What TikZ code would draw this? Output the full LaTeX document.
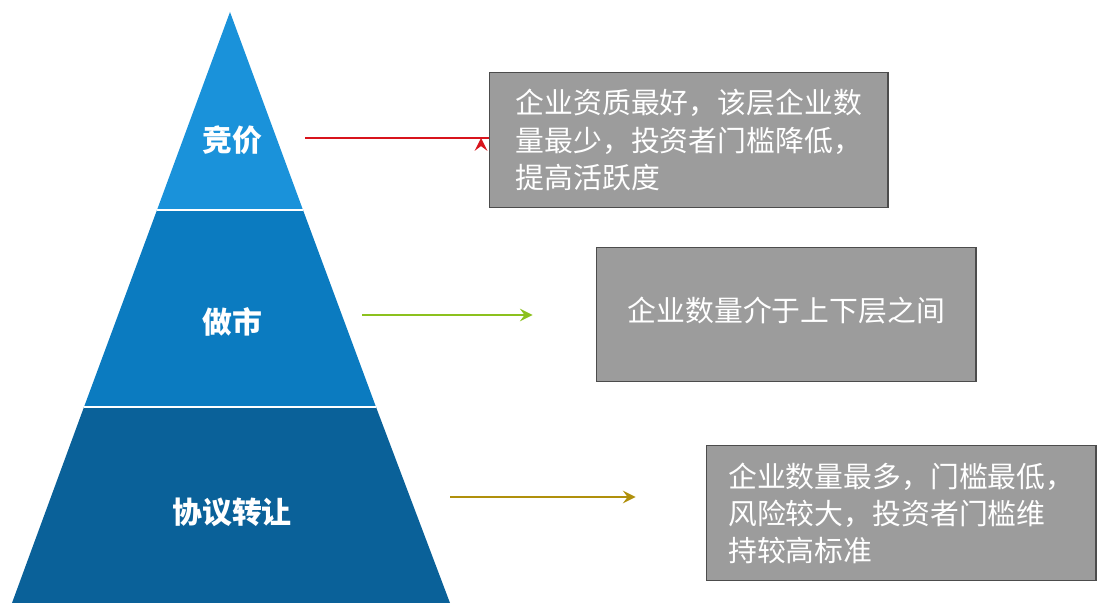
\documentclass[tikz,border=0pt]{standalone}
\usepackage{fontspec}
\newfontfamily\cjk{Noto Sans CJK SC}
\usetikzlibrary{positioning}
\definecolor{topblue}{HTML}{1A92DA}
\definecolor{midblue}{HTML}{0B7BC0}
\definecolor{lowblue}{HTML}{0A6199}
\definecolor{boxgray}{HTML}{9C9C9C}
\definecolor{arrred}{HTML}{D8141C}
\definecolor{arrgreen}{HTML}{8CC11E}
\definecolor{arrolive}{HTML}{B0900C}
\tikzset{
  layerlabel/.style={text=white,font=\cjk\bfseries\fontsize{8.5}{10}\selectfont},
  infobox/.style={draw=black!70,fill=boxgray,text=white,align=left,anchor=north west,
    inner sep=3pt,font=\cjk\fontsize{8.2}{10.6}\selectfont},
  pointer/.style={line width=0.6pt,-stealth}
}
\begin{document}
\begin{tikzpicture}[x=0.01cm,y=-0.01cm]
\useasboundingbox (0,0) rectangle (1112,616);
% pyramid layers
\fill[lowblue] (12,603)--(84,407)--(376,407)--(450,603)--cycle;
\fill[midblue] (84,407)--(157,210)--(303,210)--(376,407)--cycle;
\fill[topblue] (157,210)--(230,12)--(303,210)--cycle;
\draw[white,line width=0.8pt] (157,210)--(303,210) (84,407)--(376,407);
\node[layerlabel] (jj) at (232,140) {竞价};
\node[layerlabel] (zs) at (232,322) {做市};
\node[layerlabel] (xy) at (232,512) {协议转让};
% boxes
\node[infobox,minimum width=3.98cm,minimum height=1.35cm] (b1) at (489,72)
  {企业资质最好，该层企业数\\量最少，投资者门槛降低，\\提高活跃度};
\node[infobox,minimum width=3.79cm,minimum height=1.34cm] (b2) at (596,247)
  {\raisebox{0pt}{}\\[-6pt]企业数量介于上下层之间};
\node[infobox,minimum width=3.89cm,minimum height=1.35cm] (b3) at (706,445)
  {企业数量最多，门槛最低，\\风险较大，投资者门槛维\\持较高标准};
% pointers
\coordinate (a1) at (305,138);
\coordinate (a2) at (362,315);
\coordinate (a3) at (450,497);
\draw[pointer,arrred] (a1) -- (a1 -| b1.west) ++(-8,0);
\draw[pointer,arrgreen] (a2) -- ([xshift=-18]a2 -| b2.west);
\draw[pointer,arrolive] (a3) -- ([xshift=-20]a3 -| b3.west);
\end{tikzpicture}
\end{document}
